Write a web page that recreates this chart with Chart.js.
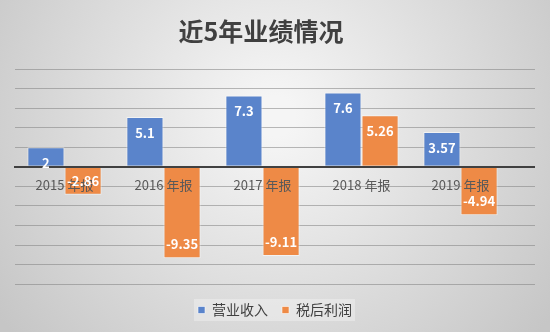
<!DOCTYPE html>
<html>
<head>
<meta charset="utf-8">
<script src="https://cdn.jsdelivr.net/npm/chart.js@4"></script>
<style>
  html, body { margin: 0; padding: 0; }
  #wrap { width: 550px; height: 332px; }
</style>
</head>
<body>
<div id="wrap"><canvas id="myChart" width="550" height="332"></canvas></div>
<script>
// 年报类别与两组数据（单位：亿元）
const categories = ['2015 年报', '2016 年报', '2017 年报', '2018 年报', '2019 年报'];
const revenue = [2, 5.1, 7.3, 7.6, 3.57];
const profit = [-2.86, -9.35, -9.11, 5.26, -4.94];
const seriesNames = ['营业收入', '税后利润'];
const yTicks = { min: -12, max: 10, step: 2 };
const titleText = '近5年业绩情况';

const FONT = '"Noto Sans CJK SC", "Noto Sans", sans-serif';
const GRID = 'rgba(130,130,130,0.55)';
const AXIS = '#404040';

// 灰色径向渐变背景 + 图例底框
const bgPlugin = {
    id: 'bg',
    beforeDraw(chart) {
        const c = chart.ctx;
        const w = chart.width, h = chart.height;
        const g = c.createRadialGradient(w / 2, h * 0.35, 20, w / 2, h * 0.35, w * 0.62);
        g.addColorStop(0, '#f5f5f5');
        g.addColorStop(1, '#c6c6c6');
        c.save();
        c.fillStyle = g;
        c.fillRect(0, 0, w, h);
        const boxes = chart.legend && chart.legend.legendHitBoxes;
        if (boxes && boxes.length) {
            const l = Math.min(...boxes.map(b => b.left));
            const r = Math.max(...boxes.map(b => b.left + b.width));
            const t = Math.min(...boxes.map(b => b.top));
            const bt = Math.max(...boxes.map(b => b.top + b.height));
            c.fillStyle = 'rgba(255,255,255,0.3)';
            c.fillRect(l - 4, t - 4, r - l + 7, bt - t + 8);
        }
        c.restore();
    }
};

// 标题（略偏左）
const titlePlugin = {
    id: 'titleText',
    afterDraw(chart) {
        const c = chart.ctx;
        c.save();
        c.font = 'bold 25px ' + FONT;
        c.fillStyle = AXIS;
        c.textAlign = 'center';
        c.textBaseline = 'middle';
        c.fillText(titleText, 261, 31);
        c.restore();
    }
};

// 柱内数值标签
const valueLabels = {
    id: 'valueLabels',
    afterDraw(chart) {
        const c = chart.ctx;
        c.save();
        c.font = 'bold 13px ' + FONT;
        c.fillStyle = '#ffffff';
        c.textAlign = 'center';
        c.textBaseline = 'middle';
        chart.data.datasets.forEach((ds, i) => {
            chart.getDatasetMeta(i).data.forEach((bar, j) => {
                const v = ds.data[j];
                const y = v >= 0 ? bar.y + 16 : bar.y - 14;
                c.fillText(String(v), bar.x, y);
            });
        });
        c.restore();
    }
};

const ctx = document.getElementById('myChart').getContext('2d');
const chart = new Chart(ctx, {
    type: 'bar',
    data: {
        labels: categories,
        datasets: [{
            label: seriesNames[0],
            data: revenue,
            backgroundColor: '#5a84cb',
            borderColor: 'rgba(255,255,255,0.55)',
            borderWidth: 1
        }, {
            label: seriesNames[1],
            data: profit,
            backgroundColor: '#ee8a46',
            borderColor: 'rgba(255,255,255,0.55)',
            borderWidth: 1
        }]
    },
    options: {
        responsive: false,
        animation: false,
        layout: { padding: { left: 15, right: 15, top: 69, bottom: 5 } },
        datasets: {
            bar: { categoryPercentage: 0.75, barPercentage: 1 }
        },
        scales: {
            x: {
                position: { y: 0 },
                grid: { display: false },
                border: { display: true, color: AXIS, width: 2, z: 1 },
                ticks: {
                    z: 1,
                    color: '#595959',
                    font: { family: FONT, size: 13 },
                    padding: 2,
                    maxRotation: 0,
                    autoSkip: false
                }
            },
            y: {
                // 轴放在右侧，网格线的刻度段向右延伸
                position: 'right',
                min: yTicks.min,
                max: yTicks.max,
                ticks: { display: false, stepSize: yTicks.step },
                border: { display: false },
                grid: {
                    color: c => c.tick && c.tick.value === 0 ? AXIS : GRID,
                    lineWidth: c => c.tick && c.tick.value === 0 ? 2 : 1,
                    drawTicks: true,
                    tickLength: 25
                }
            }
        },
        plugins: {
            title: { display: false },
            legend: {
                position: 'bottom',
                // 空标题只用来把图例项往下推
                title: { display: true, text: '', font: { size: 4 }, padding: 0 },
                labels: {
                    color: AXIS,
                    font: { family: FONT, size: 14 },
                    usePointStyle: true,
                    pointStyle: 'rect',
                    boxWidth: 7,
                    boxHeight: 7,
                    padding: 14
                }
            },
            tooltip: { enabled: false }
        }
    },
    plugins: [bgPlugin, titlePlugin, valueLabels]
});
</script>
</body>
</html>
